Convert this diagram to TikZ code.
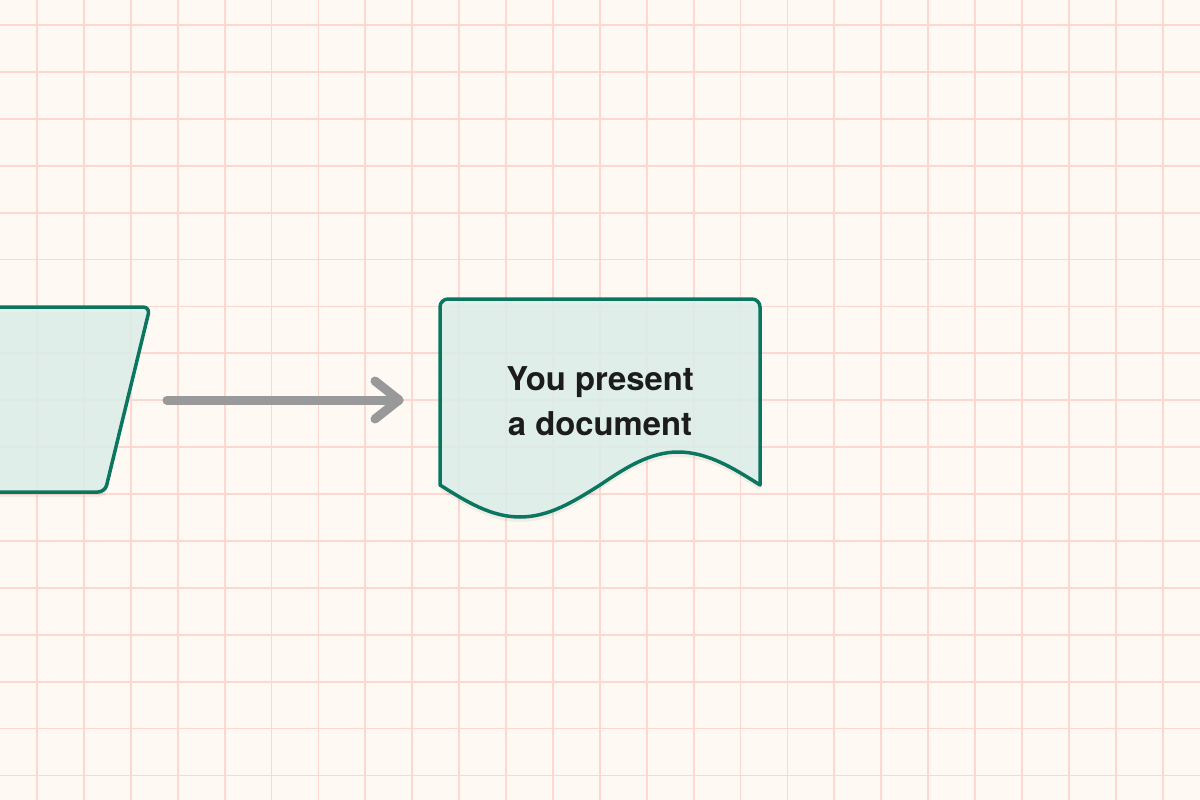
\documentclass[tikz,border=0pt]{standalone}
\usepackage{fontspec}
\setmainfont{TeX Gyre Heros}
\usetikzlibrary{shadows}
\definecolor{paper}{HTML}{FFF9F3}
\definecolor{gridc}{HTML}{FCD8D1}
\definecolor{tealline}{HTML}{0B7660}
\definecolor{tealfill}{HTML}{DDEFEA}
\definecolor{arrowgray}{HTML}{999999}
\definecolor{txt}{HTML}{1C1C1C}
\tikzset{
  shapeline/.style={draw=tealline, line width=3.5pt, fill=tealfill, fill opacity=0.88, draw opacity=1, line join=round},
  softshadow/.style={drop shadow={shadow xshift=0pt, shadow yshift=-5pt, opacity=0.05, fill=black}},
  connector/.style={draw=arrowgray, line width=9pt, line cap=round, line join=round},
  label/.style={text=txt, font=\fontsize{32.8}{45}\selectfont\bfseries, align=center}
}
\begin{document}
\begin{tikzpicture}[x=1pt,y=-1pt]
\useasboundingbox (0,0) rectangle (1200,800);
\fill[paper] (0,0) rectangle (1200,800);
% grid
\foreach \i in {0,...,25} {
  \draw[gridc, line width=1.8pt] ({37+46.9*\i},0) -- ({37+46.9*\i},800);
}
\foreach \j in {0,...,16} {
  \draw[gridc, line width=1.8pt] (0,{25+46.9*\j}) -- (1200,{25+46.9*\j});
}
% parallelogram (partly off the left edge)
\path[shapeline, softshadow, rounded corners=7pt]
  (-100,307) -- (150,307) -- (105,492) -- (-145,492) -- cycle;
\coordinate (pout) at (167,400);
% document shape
\path[shapeline, softshadow]
  (440,485) -- (440,307) arc (180:270:8) -- (752,299) arc (270:360:8) -- (760,485)
  .. controls (733.3,468.1) and (707.5,452) .. (678,452)
  .. controls (650,452) and (625,468) .. (600,485)
  .. controls (574,501.4) and (549,517) .. (520,517)
  .. controls (491,517) and (466,501.4) .. (440,485) -- cycle;
\node[label] (doc) at (600,401) {You present\\a document};
\coordinate (din) at (399,400);
% connector
\draw[connector] (pout) -- (din);
\draw[connector] ([shift={(-24,-19)}]din) -- (din) -- ([shift={(-24,19)}]din);
\end{tikzpicture}
\end{document}
